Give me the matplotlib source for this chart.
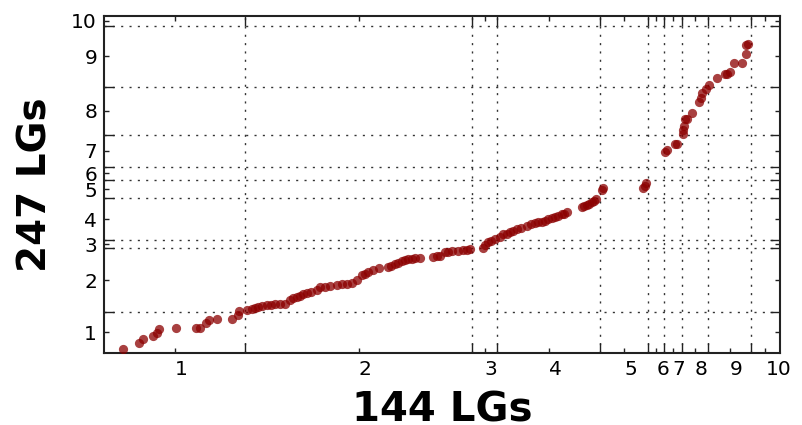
"""LG position comparison, 144 LGs vs 247 LGs"""
import numpy as np
import matplotlib
matplotlib.use("Agg")
import matplotlib.pyplot as plt
from matplotlib.ticker import FixedLocator, NullFormatter, FixedFormatter

# linkage group lengths (cumulative axis units)
lg_len_x = [141, 227.3, 25, 102.7, 48.3, 15.7, 17.7, 26.6, 42.4, 29.3]
lg_len_y = [41.3, 63.4, 8.3, 41.7, 18.3, 13.3, 31.7, 48.3, 61, 9.7]
lg_names = ["1", "2", "3", "4", "5", "6", "7", "8", "9", "10"]

# marker positions (144 LGs, 247 LGs)
x = [18.7, 35.3, 38.7, 49.3, 52.7, 55.3, 72, 92, 96, 102, 105.3, 112.7, 127.7,
     134.3, 135.3,
     142.7, 147.7, 151, 154.3, 158, 162.7, 167, 171, 176, 181, 186, 189, 192.7,
     196, 199.3, 202.7, 207, 212.7, 216, 221, 226, 232.7, 237.7, 243, 247.7,
     252.7, 257.7, 261, 264.3, 269.3, 275, 284.3, 287, 291, 294, 297.7, 301,
     304.3, 308, 311, 316, 329.3, 333, 336, 341, 344, 347.7, 354.3, 359.3, 363,
     366,
     379.3, 381, 384.3, 387, 391,
     396, 399.3, 403, 406, 409, 412.7, 417, 422.7, 427, 431, 434, 437.7, 441,
     444.3, 448, 451, 454, 457.7, 460, 462.7, 477.7, 480, 482.7, 485, 487.7, 490,
     492,
     497.7, 499.3, 539.3, 540.5, 541.7,
     561, 563, 571, 573, 578.7, 578.7, 579.5, 581, 583, 587.7, 595, 596.5,
     597.7, 602, 605.3, 612.7, 621, 623, 626, 630, 637.7, 641.7, 642, 644.3]
y = [4, 9.7, 13.7, 17, 20.3, 24.3, 25, 25, 25, 29.7, 33, 33.7, 33.7,
     38, 42.3,
     43, 43.7, 45, 46.3, 47, 48, 48.5, 48.7, 49, 49, 53, 55, 56.3,
     57.5, 58.7, 59.7, 61, 63, 65.7, 66.5, 67, 68, 68.7, 69.5, 70.3,
     73, 78, 79.5, 80.7, 83, 85.3, 86.3, 87.5, 88.7, 90, 92, 93,
     94, 94.5, 94.7, 95.3, 96.3, 96.8, 97.3, 100.7, 101.5, 102, 102, 103, 103.3,
     103.7,
     104.7, 108, 111.3, 112.5, 114,
     116.3, 118.7, 119.5, 120.7, 122, 124, 125.5, 127.3, 129, 130.3, 130.8, 131.3, 132.5,
     134, 135, 136.3, 137.5, 138.7, 139.5, 140.7, 145.7, 147, 148, 149.5, 150.7, 152,
     154,
     163, 165.3, 164.7, 167.5, 170.3,
     201.3, 203, 209, 209.5, 219, 223, 227, 233.7, 234, 239.7, 251.3, 255,
     259.7, 264, 268, 274.7, 278.7, 279.5, 280.7, 290.3, 290.3, 298.7, 308, 308.7]

bx = np.concatenate([[0], np.cumsum(lg_len_x)])
by = np.concatenate([[0], np.cumsum(lg_len_y)])
cx = (bx[:-1] + bx[1:]) / 2
cy = (by[:-1] + by[1:]) / 2

fig = plt.figure(figsize=(8.02, 4.25), dpi=100)
ax = fig.add_axes([104 / 802, 1 - 353 / 425, 676 / 802, 337 / 425])

ax.scatter(x, y, s=44, c="#8b0000", alpha=0.75, linewidths=0, zorder=3)

ax.set_xlim(0, bx[-1])
ax.set_ylim(0, by[-1])

# boundaries -> major ticks + grid, centres -> labelled minor ticks
ax.xaxis.set_major_locator(FixedLocator(bx[1:-1]))
ax.yaxis.set_major_locator(FixedLocator(by[1:-1]))
ax.xaxis.set_major_formatter(NullFormatter())
ax.yaxis.set_major_formatter(NullFormatter())
ax.xaxis.set_minor_locator(FixedLocator(cx))
ax.yaxis.set_minor_locator(FixedLocator(cy))
ax.xaxis.set_minor_formatter(FixedFormatter(lg_names))
ax.yaxis.set_minor_formatter(FixedFormatter(lg_names))

ax.tick_params(which="both", direction="in", top=True, right=True, width=1, color="#222222")
ax.tick_params(which="major", length=7.5)
ax.tick_params(which="minor", length=3.5, labelsize=14.5, pad=5)
for lab in ax.xaxis.get_minorticklabels():
    lab.set_horizontalalignment("left")

ax.grid(True, which="major", linestyle=(0, (1.5, 4.5)), color="#333333", linewidth=1)

for sp in ax.spines.values():
    sp.set_linewidth(1.5)
    sp.set_color("#222222")

ax.set_xlabel("144 LGs", fontsize=29, fontweight="bold", labelpad=8)
ax.set_ylabel("247 LGs", fontsize=28, fontweight="bold", labelpad=12)

fig.savefig("out.png", dpi=100)
